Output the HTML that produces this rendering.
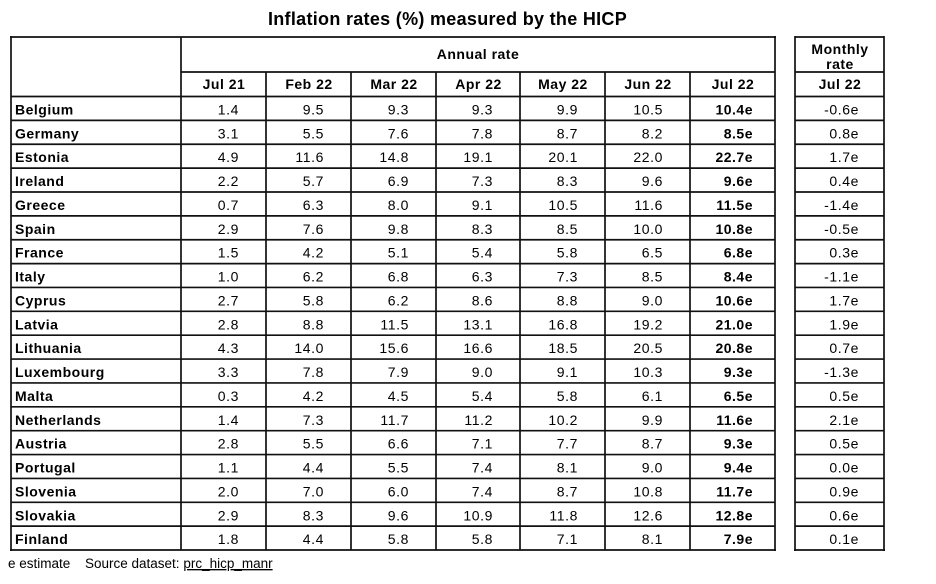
<!DOCTYPE html>
<html><head><meta charset="utf-8"><style>
html,body{margin:0;padding:0;background:#fff;}
svg{display:block;}
text{font-family:"Liberation Sans",Arial,sans-serif;fill:#000;}
.t{font-size:18px;font-weight:bold;letter-spacing:0.3px;}
.h{font-size:14px;font-weight:bold;letter-spacing:0.5px;}
.c{font-size:14px;font-weight:bold;letter-spacing:0.5px;}
.n{font-size:14px;letter-spacing:0.6px;text-anchor:end;}
.b{font-size:14px;font-weight:bold;letter-spacing:0.5px;text-anchor:end;}
.f{font-size:13.5px;}
line{stroke:#111;stroke-width:1.7;}
</style></head><body>
<svg width="936" height="584" viewBox="0 0 936 584" xmlns="http://www.w3.org/2000/svg">
<text class="t" x="447.5" y="25" text-anchor="middle">Inflation rates (%) measured by the HICP</text>

<!-- main table frame -->
<line x1="10" y1="37" x2="776" y2="37"/>
<line x1="11" y1="36" x2="11" y2="551"/>
<line x1="181" y1="37" x2="181" y2="550"/>
<line x1="775" y1="36" x2="775" y2="551"/>
<line x1="181" y1="72" x2="775" y2="72"/>
<line x1="266" y1="72" x2="266" y2="550"/>
<line x1="351" y1="72" x2="351" y2="550"/>
<line x1="436" y1="72" x2="436" y2="550"/>
<line x1="520" y1="72" x2="520" y2="550"/>
<line x1="605" y1="72" x2="605" y2="550"/>
<line x1="690" y1="72" x2="690" y2="550"/>

<!-- monthly frame -->
<line x1="795" y1="36" x2="795" y2="551"/>
<line x1="884" y1="36" x2="884" y2="551"/>
<line x1="795" y1="37" x2="884" y2="37"/>
<line x1="795" y1="72" x2="884" y2="72"/>

<!-- row lines -->
<g>
<line x1="11" y1="96.5" x2="775" y2="96.5"/><line x1="795" y1="96.5" x2="884" y2="96.5"/>
<line x1="11" y1="120.37" x2="775" y2="120.37"/><line x1="795" y1="120.37" x2="884" y2="120.37"/>
<line x1="11" y1="144.24" x2="775" y2="144.24"/><line x1="795" y1="144.24" x2="884" y2="144.24"/>
<line x1="11" y1="168.11" x2="775" y2="168.11"/><line x1="795" y1="168.11" x2="884" y2="168.11"/>
<line x1="11" y1="191.98" x2="775" y2="191.98"/><line x1="795" y1="191.98" x2="884" y2="191.98"/>
<line x1="11" y1="215.85" x2="775" y2="215.85"/><line x1="795" y1="215.85" x2="884" y2="215.85"/>
<line x1="11" y1="239.72" x2="775" y2="239.72"/><line x1="795" y1="239.72" x2="884" y2="239.72"/>
<line x1="11" y1="263.59" x2="775" y2="263.59"/><line x1="795" y1="263.59" x2="884" y2="263.59"/>
<line x1="11" y1="287.46" x2="775" y2="287.46"/><line x1="795" y1="287.46" x2="884" y2="287.46"/>
<line x1="11" y1="311.33" x2="775" y2="311.33"/><line x1="795" y1="311.33" x2="884" y2="311.33"/>
<line x1="11" y1="335.2" x2="775" y2="335.2"/><line x1="795" y1="335.2" x2="884" y2="335.2"/>
<line x1="11" y1="359.07" x2="775" y2="359.07"/><line x1="795" y1="359.07" x2="884" y2="359.07"/>
<line x1="11" y1="382.94" x2="775" y2="382.94"/><line x1="795" y1="382.94" x2="884" y2="382.94"/>
<line x1="11" y1="406.81" x2="775" y2="406.81"/><line x1="795" y1="406.81" x2="884" y2="406.81"/>
<line x1="11" y1="430.68" x2="775" y2="430.68"/><line x1="795" y1="430.68" x2="884" y2="430.68"/>
<line x1="11" y1="454.55" x2="775" y2="454.55"/><line x1="795" y1="454.55" x2="884" y2="454.55"/>
<line x1="11" y1="478.42" x2="775" y2="478.42"/><line x1="795" y1="478.42" x2="884" y2="478.42"/>
<line x1="11" y1="502.29" x2="775" y2="502.29"/><line x1="795" y1="502.29" x2="884" y2="502.29"/>
<line x1="11" y1="526.16" x2="775" y2="526.16"/><line x1="795" y1="526.16" x2="884" y2="526.16"/>
<line x1="10" y1="550" x2="776" y2="550"/><line x1="794" y1="550" x2="885" y2="550"/>
</g>

<!-- headers -->
<text class="h" x="478" y="59" text-anchor="middle">Annual rate</text>
<text class="h" x="224" y="89" text-anchor="middle">Jul 21</text>
<text class="h" x="309" y="89" text-anchor="middle">Feb 22</text>
<text class="h" x="394" y="89" text-anchor="middle">Mar 22</text>
<text class="h" x="478.5" y="89" text-anchor="middle">Apr 22</text>
<text class="h" x="563" y="89" text-anchor="middle">May 22</text>
<text class="h" x="648" y="89" text-anchor="middle">Jun 22</text>
<text class="h" x="733" y="89" text-anchor="middle">Jul 22</text>
<text class="h" x="840" y="54" text-anchor="middle">Monthly</text>
<text class="h" x="840" y="69" text-anchor="middle">rate</text>
<text class="h" x="840" y="89" text-anchor="middle">Jul 22</text>

<!-- rows -->
<g transform="translate(0,96.5)">
<text class="c" x="15" y="18">Belgium</text>
<text class="n" x="239" y="18">1.4</text><text class="n" x="324" y="18">9.5</text><text class="n" x="409" y="18">9.3</text><text class="n" x="493" y="18">9.3</text><text class="n" x="578" y="18">9.9</text><text class="n" x="663" y="18">10.5</text><text class="b" x="753" y="18">10.4e</text><text class="n" x="859" y="18">-0.6e</text>
</g>
<g transform="translate(0,120.37)">
<text class="c" x="15" y="18">Germany</text>
<text class="n" x="239" y="18">3.1</text><text class="n" x="324" y="18">5.5</text><text class="n" x="409" y="18">7.6</text><text class="n" x="493" y="18">7.8</text><text class="n" x="578" y="18">8.7</text><text class="n" x="663" y="18">8.2</text><text class="b" x="753" y="18">8.5e</text><text class="n" x="859" y="18">0.8e</text>
</g>
<g transform="translate(0,144.24)">
<text class="c" x="15" y="18">Estonia</text>
<text class="n" x="239" y="18">4.9</text><text class="n" x="324" y="18">11.6</text><text class="n" x="409" y="18">14.8</text><text class="n" x="493" y="18">19.1</text><text class="n" x="578" y="18">20.1</text><text class="n" x="663" y="18">22.0</text><text class="b" x="753" y="18">22.7e</text><text class="n" x="859" y="18">1.7e</text>
</g>
<g transform="translate(0,168.11)">
<text class="c" x="15" y="18">Ireland</text>
<text class="n" x="239" y="18">2.2</text><text class="n" x="324" y="18">5.7</text><text class="n" x="409" y="18">6.9</text><text class="n" x="493" y="18">7.3</text><text class="n" x="578" y="18">8.3</text><text class="n" x="663" y="18">9.6</text><text class="b" x="753" y="18">9.6e</text><text class="n" x="859" y="18">0.4e</text>
</g>
<g transform="translate(0,191.98)">
<text class="c" x="15" y="18">Greece</text>
<text class="n" x="239" y="18">0.7</text><text class="n" x="324" y="18">6.3</text><text class="n" x="409" y="18">8.0</text><text class="n" x="493" y="18">9.1</text><text class="n" x="578" y="18">10.5</text><text class="n" x="663" y="18">11.6</text><text class="b" x="753" y="18">11.5e</text><text class="n" x="859" y="18">-1.4e</text>
</g>
<g transform="translate(0,215.85)">
<text class="c" x="15" y="18">Spain</text>
<text class="n" x="239" y="18">2.9</text><text class="n" x="324" y="18">7.6</text><text class="n" x="409" y="18">9.8</text><text class="n" x="493" y="18">8.3</text><text class="n" x="578" y="18">8.5</text><text class="n" x="663" y="18">10.0</text><text class="b" x="753" y="18">10.8e</text><text class="n" x="859" y="18">-0.5e</text>
</g>
<g transform="translate(0,239.72)">
<text class="c" x="15" y="18">France</text>
<text class="n" x="239" y="18">1.5</text><text class="n" x="324" y="18">4.2</text><text class="n" x="409" y="18">5.1</text><text class="n" x="493" y="18">5.4</text><text class="n" x="578" y="18">5.8</text><text class="n" x="663" y="18">6.5</text><text class="b" x="753" y="18">6.8e</text><text class="n" x="859" y="18">0.3e</text>
</g>
<g transform="translate(0,263.59)">
<text class="c" x="15" y="18">Italy</text>
<text class="n" x="239" y="18">1.0</text><text class="n" x="324" y="18">6.2</text><text class="n" x="409" y="18">6.8</text><text class="n" x="493" y="18">6.3</text><text class="n" x="578" y="18">7.3</text><text class="n" x="663" y="18">8.5</text><text class="b" x="753" y="18">8.4e</text><text class="n" x="859" y="18">-1.1e</text>
</g>
<g transform="translate(0,287.46)">
<text class="c" x="15" y="18">Cyprus</text>
<text class="n" x="239" y="18">2.7</text><text class="n" x="324" y="18">5.8</text><text class="n" x="409" y="18">6.2</text><text class="n" x="493" y="18">8.6</text><text class="n" x="578" y="18">8.8</text><text class="n" x="663" y="18">9.0</text><text class="b" x="753" y="18">10.6e</text><text class="n" x="859" y="18">1.7e</text>
</g>
<g transform="translate(0,311.33)">
<text class="c" x="15" y="18">Latvia</text>
<text class="n" x="239" y="18">2.8</text><text class="n" x="324" y="18">8.8</text><text class="n" x="409" y="18">11.5</text><text class="n" x="493" y="18">13.1</text><text class="n" x="578" y="18">16.8</text><text class="n" x="663" y="18">19.2</text><text class="b" x="753" y="18">21.0e</text><text class="n" x="859" y="18">1.9e</text>
</g>
<g transform="translate(0,335.2)">
<text class="c" x="15" y="18">Lithuania</text>
<text class="n" x="239" y="18">4.3</text><text class="n" x="324" y="18">14.0</text><text class="n" x="409" y="18">15.6</text><text class="n" x="493" y="18">16.6</text><text class="n" x="578" y="18">18.5</text><text class="n" x="663" y="18">20.5</text><text class="b" x="753" y="18">20.8e</text><text class="n" x="859" y="18">0.7e</text>
</g>
<g transform="translate(0,359.07)">
<text class="c" x="15" y="18">Luxembourg</text>
<text class="n" x="239" y="18">3.3</text><text class="n" x="324" y="18">7.8</text><text class="n" x="409" y="18">7.9</text><text class="n" x="493" y="18">9.0</text><text class="n" x="578" y="18">9.1</text><text class="n" x="663" y="18">10.3</text><text class="b" x="753" y="18">9.3e</text><text class="n" x="859" y="18">-1.3e</text>
</g>
<g transform="translate(0,382.94)">
<text class="c" x="15" y="18">Malta</text>
<text class="n" x="239" y="18">0.3</text><text class="n" x="324" y="18">4.2</text><text class="n" x="409" y="18">4.5</text><text class="n" x="493" y="18">5.4</text><text class="n" x="578" y="18">5.8</text><text class="n" x="663" y="18">6.1</text><text class="b" x="753" y="18">6.5e</text><text class="n" x="859" y="18">0.5e</text>
</g>
<g transform="translate(0,406.81)">
<text class="c" x="15" y="18">Netherlands</text>
<text class="n" x="239" y="18">1.4</text><text class="n" x="324" y="18">7.3</text><text class="n" x="409" y="18">11.7</text><text class="n" x="493" y="18">11.2</text><text class="n" x="578" y="18">10.2</text><text class="n" x="663" y="18">9.9</text><text class="b" x="753" y="18">11.6e</text><text class="n" x="859" y="18">2.1e</text>
</g>
<g transform="translate(0,430.68)">
<text class="c" x="15" y="18">Austria</text>
<text class="n" x="239" y="18">2.8</text><text class="n" x="324" y="18">5.5</text><text class="n" x="409" y="18">6.6</text><text class="n" x="493" y="18">7.1</text><text class="n" x="578" y="18">7.7</text><text class="n" x="663" y="18">8.7</text><text class="b" x="753" y="18">9.3e</text><text class="n" x="859" y="18">0.5e</text>
</g>
<g transform="translate(0,454.55)">
<text class="c" x="15" y="18">Portugal</text>
<text class="n" x="239" y="18">1.1</text><text class="n" x="324" y="18">4.4</text><text class="n" x="409" y="18">5.5</text><text class="n" x="493" y="18">7.4</text><text class="n" x="578" y="18">8.1</text><text class="n" x="663" y="18">9.0</text><text class="b" x="753" y="18">9.4e</text><text class="n" x="859" y="18">0.0e</text>
</g>
<g transform="translate(0,478.42)">
<text class="c" x="15" y="18">Slovenia</text>
<text class="n" x="239" y="18">2.0</text><text class="n" x="324" y="18">7.0</text><text class="n" x="409" y="18">6.0</text><text class="n" x="493" y="18">7.4</text><text class="n" x="578" y="18">8.7</text><text class="n" x="663" y="18">10.8</text><text class="b" x="753" y="18">11.7e</text><text class="n" x="859" y="18">0.9e</text>
</g>
<g transform="translate(0,502.29)">
<text class="c" x="15" y="18">Slovakia</text>
<text class="n" x="239" y="18">2.9</text><text class="n" x="324" y="18">8.3</text><text class="n" x="409" y="18">9.6</text><text class="n" x="493" y="18">10.9</text><text class="n" x="578" y="18">11.8</text><text class="n" x="663" y="18">12.6</text><text class="b" x="753" y="18">12.8e</text><text class="n" x="859" y="18">0.6e</text>
</g>
<g transform="translate(0,526.16)">
<text class="c" x="15" y="18">Finland</text>
<text class="n" x="239" y="18">1.8</text><text class="n" x="324" y="18">4.4</text><text class="n" x="409" y="18">5.8</text><text class="n" x="493" y="18">5.8</text><text class="n" x="578" y="18">7.1</text><text class="n" x="663" y="18">8.1</text><text class="b" x="753" y="18">7.9e</text><text class="n" x="859" y="18">0.1e</text>
</g>

<!-- footer -->
<text class="f" x="8" y="568">e estimate</text>
<text class="f" x="85" y="568">Source dataset: <tspan text-decoration="underline">prc_hicp_manr</tspan></text>
</svg>
</body></html>
